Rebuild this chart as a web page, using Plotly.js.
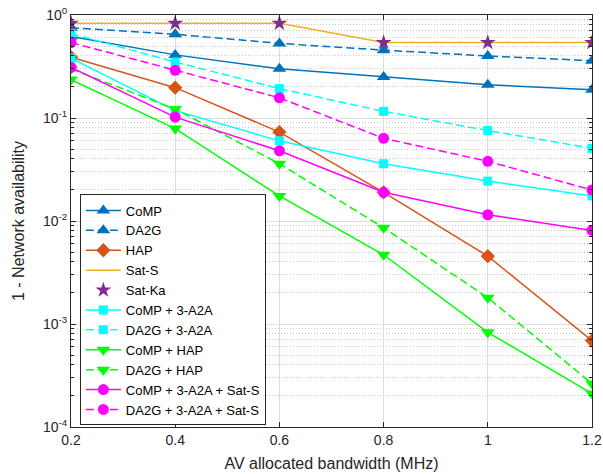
<!DOCTYPE html>
<html>
<head>
<meta charset="utf-8">
<script src="https://cdn.plot.ly/plotly-3.0.1.min.js"></script>
<style>html,body{margin:0;padding:0;background:#fff;}#chart{width:603px;height:474px;}</style>
</head>
<body>
<div id="chart"></div>
<script>
const bandwidth = [0.2, 0.4, 0.6, 0.8, 1.0, 1.2];
const comp = [0.62, 0.41, 0.30, 0.25, 0.21, 0.188];
const da2g = [0.75, 0.65, 0.53, 0.456, 0.40, 0.36];
const hap = [0.39, 0.197, 0.073, 0.019, 0.00456, 0.00069];
const satS = [0.83, 0.83, 0.83, 0.54, 0.54, 0.54];
const satKa = [0.83, 0.83, 0.83, 0.54, 0.54, 0.54];
const compA2A = [0.38, 0.118, 0.060, 0.036, 0.0244, 0.0175];
const da2gA2A = [0.66, 0.35, 0.193, 0.116, 0.0755, 0.0508];
const compHap = [0.236, 0.079, 0.0175, 0.0047, 0.00083, 0.000211];
const da2gHap = [0.30, 0.122, 0.036, 0.0086, 0.0018, 0.000264];
const compA2ASat = [0.31, 0.102, 0.048, 0.019, 0.0115, 0.0081];
const da2gA2ASat = [0.54, 0.29, 0.157, 0.0635, 0.038, 0.020];
const xTicks = [0.2, 0.4, 0.6, 0.8, 1.0, 1.2];
const xTickText = ['0.2', '0.4', '0.6', '0.8', '1', '1.2'];
const yTicks = [1e-4, 1e-3, 1e-2, 1e-1, 1];
const yTickText = ['10<sup>-4</sup>', '10<sup>-3</sup>', '10<sup>-2</sup>', '10<sup>-1</sup>', '10<sup>0</sup>'];

const BLUE = '#0072BD', ORANGE = '#D95319', YELLOW = '#EDB120', PURPLE = '#7E2F8E';
const CYAN = '#00FFFF', GREEN = '#00FF00', MAGENTA = '#FF00FF';
const DASH = '8px,4px';
const LW = 1.5;
const FONT = 'Liberation Sans, Arial, sans-serif';

function tr(name, y, color, dash, symbol, size, mode) {
  return {
    x: bandwidth, y: y, name: name, type: 'scatter',
    mode: mode || 'lines+markers',
    line: {color: color, width: LW, dash: dash},
    marker: {color: color, symbol: symbol, size: size, line: {width: 0}}
  };
}

const data = [
  tr('CoMP', comp, BLUE, 'solid', 'triangle-up', 12),
  tr('DA2G', da2g, BLUE, DASH, 'triangle-up', 12),
  tr('HAP', hap, ORANGE, 'solid', 'diamond', 11),
  tr('Sat-S', satS, YELLOW, 'solid', 'circle', 1, 'lines'),
  tr('Sat-Ka', satKa, PURPLE, 'solid', 'star', 12, 'markers'),
  tr('CoMP + 3-A2A', compA2A, CYAN, 'solid', 'square', 9),
  tr('DA2G + 3-A2A', da2gA2A, CYAN, DASH, 'square', 9),
  tr('CoMP + HAP', compHap, GREEN, 'solid', 'triangle-down', 12),
  tr('DA2G + HAP', da2gHap, GREEN, DASH, 'triangle-down', 12),
  tr('CoMP + 3-A2A + Sat-S', compA2ASat, MAGENTA, 'solid', 'circle', 11),
  tr('DA2G + 3-A2A + Sat-S', da2gA2ASat, MAGENTA, DASH, 'circle', 11)
];

const axisCommon = {
  showline: true, linecolor: '#262626', linewidth: 1, mirror: 'ticks',
  ticks: 'inside', ticklen: 5, tickcolor: '#262626',
  showgrid: true, gridcolor: '#dcdcdc', gridwidth: 1,
  zeroline: false,
  tickfont: {family: FONT, size: 14, color: '#262626'}
};

const layout = {
  width: 603, height: 474,
  margin: {l: 71, r: 11, t: 15, b: 47},
  paper_bgcolor: '#ffffff', plot_bgcolor: '#ffffff',
  font: {family: FONT, color: '#262626'},
  xaxis: Object.assign({}, axisCommon, {
    range: [0.2, 1.2], tickvals: xTicks, ticktext: xTickText,
    title: {text: 'AV allocated bandwidth (MHz)', font: {size: 16, color: '#262626'}, standoff: 11}
  }),
  yaxis: Object.assign({}, axisCommon, {
    type: 'log', range: [-4, 0], tickvals: yTicks, ticktext: yTickText,
    title: {text: '1 - Network availability', font: {size: 16, color: '#262626'}, standoff: 14},
    minor: {dtick: 'D1', showgrid: true, gridcolor: '#c8c8c8', griddash: '1px,2px', gridwidth: 1,
            ticks: 'inside', ticklen: 3, tickcolor: '#262626'}
  }),
  showlegend: true,
  legend: {
    x: 0.017, y: 0.284, xanchor: 'left', yanchor: 'middle',
    bgcolor: '#ffffff', bordercolor: '#262626', borderwidth: 1,
    font: {family: FONT, size: 13, color: '#000000'},
    tracegroupgap: 0, itemwidth: 35
  }
};

Plotly.newPlot('chart', data, layout, {displayModeBar: false, staticPlot: true});
</script>
</body>
</html>
